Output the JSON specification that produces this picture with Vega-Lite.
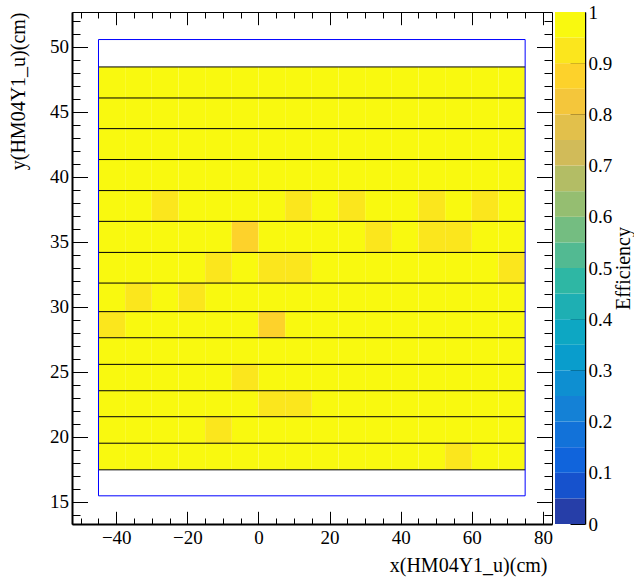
{
  "$schema": "https://vega.github.io/schema/vega-lite/v6.json",
  "background": "white",
  "padding": {"left": 7, "top": 3, "right": 0, "bottom": 0},
  "spacing": 2,
  "config": {
    "font": "Liberation Serif",
    "view": {"stroke": "black", "strokeWidth": 1},
    "axis": {"grid": false, "labelFont": "Liberation Serif", "titleFont": "Liberation Serif", "labelFontSize": 19, "titleFontSize": 20, "titleFontWeight": "normal", "labelColor": "black", "titleColor": "black", "tickColor": "black", "domainColor": "black", "labelFlush": false, "labelOverlap": false}
  },
  "datasets": {
    "cells": [
      {"x":-45,"x2":-37.5,"y":46.07,"y2":48.46,"e":0.98},{"x":-37.5,"x2":-30,"y":46.07,"y2":48.46,"e":0.98},{"x":-30,"x2":-22.5,"y":46.07,"y2":48.46,"e":0.98},{"x":-22.5,"x2":-15,"y":46.07,"y2":48.46,"e":0.98},{"x":-15,"x2":-7.5,"y":46.07,"y2":48.46,"e":0.98},{"x":-7.5,"x2":0,"y":46.07,"y2":48.46,"e":0.98},{"x":0,"x2":7.5,"y":46.07,"y2":48.46,"e":0.98},{"x":7.5,"x2":15,"y":46.07,"y2":48.46,"e":0.98},{"x":15,"x2":22.5,"y":46.07,"y2":48.46,"e":0.98},{"x":22.5,"x2":30,"y":46.07,"y2":48.46,"e":0.98},{"x":30,"x2":37.5,"y":46.07,"y2":48.46,"e":0.98},{"x":37.5,"x2":45,"y":46.07,"y2":48.46,"e":0.98},{"x":45,"x2":52.5,"y":46.07,"y2":48.46,"e":0.98},{"x":52.5,"x2":60,"y":46.07,"y2":48.46,"e":0.98},{"x":60,"x2":67.5,"y":46.07,"y2":48.46,"e":0.98},{"x":67.5,"x2":75,"y":46.07,"y2":48.46,"e":0.98},
      {"x":-45,"x2":-37.5,"y":43.71,"y2":46.07,"e":0.98},{"x":-37.5,"x2":-30,"y":43.71,"y2":46.07,"e":0.98},{"x":-30,"x2":-22.5,"y":43.71,"y2":46.07,"e":0.98},{"x":-22.5,"x2":-15,"y":43.71,"y2":46.07,"e":0.98},{"x":-15,"x2":-7.5,"y":43.71,"y2":46.07,"e":0.98},{"x":-7.5,"x2":0,"y":43.71,"y2":46.07,"e":0.98},{"x":0,"x2":7.5,"y":43.71,"y2":46.07,"e":0.98},{"x":7.5,"x2":15,"y":43.71,"y2":46.07,"e":0.98},{"x":15,"x2":22.5,"y":43.71,"y2":46.07,"e":0.98},{"x":22.5,"x2":30,"y":43.71,"y2":46.07,"e":0.98},{"x":30,"x2":37.5,"y":43.71,"y2":46.07,"e":0.98},{"x":37.5,"x2":45,"y":43.71,"y2":46.07,"e":0.98},{"x":45,"x2":52.5,"y":43.71,"y2":46.07,"e":0.98},{"x":52.5,"x2":60,"y":43.71,"y2":46.07,"e":0.98},{"x":60,"x2":67.5,"y":43.71,"y2":46.07,"e":0.98},{"x":67.5,"x2":75,"y":43.71,"y2":46.07,"e":0.98},
      {"x":-45,"x2":-37.5,"y":41.33,"y2":43.71,"e":0.98},{"x":-37.5,"x2":-30,"y":41.33,"y2":43.71,"e":0.98},{"x":-30,"x2":-22.5,"y":41.33,"y2":43.71,"e":0.98},{"x":-22.5,"x2":-15,"y":41.33,"y2":43.71,"e":0.98},{"x":-15,"x2":-7.5,"y":41.33,"y2":43.71,"e":0.98},{"x":-7.5,"x2":0,"y":41.33,"y2":43.71,"e":0.98},{"x":0,"x2":7.5,"y":41.33,"y2":43.71,"e":0.98},{"x":7.5,"x2":15,"y":41.33,"y2":43.71,"e":0.98},{"x":15,"x2":22.5,"y":41.33,"y2":43.71,"e":0.98},{"x":22.5,"x2":30,"y":41.33,"y2":43.71,"e":0.98},{"x":30,"x2":37.5,"y":41.33,"y2":43.71,"e":0.98},{"x":37.5,"x2":45,"y":41.33,"y2":43.71,"e":0.98},{"x":45,"x2":52.5,"y":41.33,"y2":43.71,"e":0.98},{"x":52.5,"x2":60,"y":41.33,"y2":43.71,"e":0.98},{"x":60,"x2":67.5,"y":41.33,"y2":43.71,"e":0.98},{"x":67.5,"x2":75,"y":41.33,"y2":43.71,"e":0.98},
      {"x":-45,"x2":-37.5,"y":38.94,"y2":41.33,"e":0.98},{"x":-37.5,"x2":-30,"y":38.94,"y2":41.33,"e":0.98},{"x":-30,"x2":-22.5,"y":38.94,"y2":41.33,"e":0.98},{"x":-22.5,"x2":-15,"y":38.94,"y2":41.33,"e":0.98},{"x":-15,"x2":-7.5,"y":38.94,"y2":41.33,"e":0.98},{"x":-7.5,"x2":0,"y":38.94,"y2":41.33,"e":0.98},{"x":0,"x2":7.5,"y":38.94,"y2":41.33,"e":0.98},{"x":7.5,"x2":15,"y":38.94,"y2":41.33,"e":0.98},{"x":15,"x2":22.5,"y":38.94,"y2":41.33,"e":0.98},{"x":22.5,"x2":30,"y":38.94,"y2":41.33,"e":0.98},{"x":30,"x2":37.5,"y":38.94,"y2":41.33,"e":0.98},{"x":37.5,"x2":45,"y":38.94,"y2":41.33,"e":0.98},{"x":45,"x2":52.5,"y":38.94,"y2":41.33,"e":0.98},{"x":52.5,"x2":60,"y":38.94,"y2":41.33,"e":0.98},{"x":60,"x2":67.5,"y":38.94,"y2":41.33,"e":0.98},{"x":67.5,"x2":75,"y":38.94,"y2":41.33,"e":0.98},
      {"x":-45,"x2":-37.5,"y":36.57,"y2":38.94,"e":0.98},{"x":-37.5,"x2":-30,"y":36.57,"y2":38.94,"e":0.98},{"x":-30,"x2":-22.5,"y":36.57,"y2":38.94,"e":0.93},{"x":-22.5,"x2":-15,"y":36.57,"y2":38.94,"e":0.98},{"x":-15,"x2":-7.5,"y":36.57,"y2":38.94,"e":0.98},{"x":-7.5,"x2":0,"y":36.57,"y2":38.94,"e":0.98},{"x":0,"x2":7.5,"y":36.57,"y2":38.94,"e":0.98},{"x":7.5,"x2":15,"y":36.57,"y2":38.94,"e":0.93},{"x":15,"x2":22.5,"y":36.57,"y2":38.94,"e":0.98},{"x":22.5,"x2":30,"y":36.57,"y2":38.94,"e":0.93},{"x":30,"x2":37.5,"y":36.57,"y2":38.94,"e":0.98},{"x":37.5,"x2":45,"y":36.57,"y2":38.94,"e":0.98},{"x":45,"x2":52.5,"y":36.57,"y2":38.94,"e":0.93},{"x":52.5,"x2":60,"y":36.57,"y2":38.94,"e":0.98},{"x":60,"x2":67.5,"y":36.57,"y2":38.94,"e":0.93},{"x":67.5,"x2":75,"y":36.57,"y2":38.94,"e":0.98},
      {"x":-45,"x2":-37.5,"y":34.18,"y2":36.57,"e":0.98},{"x":-37.5,"x2":-30,"y":34.18,"y2":36.57,"e":0.98},{"x":-30,"x2":-22.5,"y":34.18,"y2":36.57,"e":0.98},{"x":-22.5,"x2":-15,"y":34.18,"y2":36.57,"e":0.98},{"x":-15,"x2":-7.5,"y":34.18,"y2":36.57,"e":0.98},{"x":-7.5,"x2":0,"y":34.18,"y2":36.57,"e":0.88},{"x":0,"x2":7.5,"y":34.18,"y2":36.57,"e":0.98},{"x":7.5,"x2":15,"y":34.18,"y2":36.57,"e":0.98},{"x":15,"x2":22.5,"y":34.18,"y2":36.57,"e":0.98},{"x":22.5,"x2":30,"y":34.18,"y2":36.57,"e":0.98},{"x":30,"x2":37.5,"y":34.18,"y2":36.57,"e":0.93},{"x":37.5,"x2":45,"y":34.18,"y2":36.57,"e":0.98},{"x":45,"x2":52.5,"y":34.18,"y2":36.57,"e":0.93},{"x":52.5,"x2":60,"y":34.18,"y2":36.57,"e":0.93},{"x":60,"x2":67.5,"y":34.18,"y2":36.57,"e":0.98},{"x":67.5,"x2":75,"y":34.18,"y2":36.57,"e":0.98},
      {"x":-45,"x2":-37.5,"y":31.82,"y2":34.18,"e":0.98},{"x":-37.5,"x2":-30,"y":31.82,"y2":34.18,"e":0.98},{"x":-30,"x2":-22.5,"y":31.82,"y2":34.18,"e":0.98},{"x":-22.5,"x2":-15,"y":31.82,"y2":34.18,"e":0.98},{"x":-15,"x2":-7.5,"y":31.82,"y2":34.18,"e":0.93},{"x":-7.5,"x2":0,"y":31.82,"y2":34.18,"e":0.98},{"x":0,"x2":7.5,"y":31.82,"y2":34.18,"e":0.93},{"x":7.5,"x2":15,"y":31.82,"y2":34.18,"e":0.93},{"x":15,"x2":22.5,"y":31.82,"y2":34.18,"e":0.98},{"x":22.5,"x2":30,"y":31.82,"y2":34.18,"e":0.98},{"x":30,"x2":37.5,"y":31.82,"y2":34.18,"e":0.98},{"x":37.5,"x2":45,"y":31.82,"y2":34.18,"e":0.98},{"x":45,"x2":52.5,"y":31.82,"y2":34.18,"e":0.98},{"x":52.5,"x2":60,"y":31.82,"y2":34.18,"e":0.98},{"x":60,"x2":67.5,"y":31.82,"y2":34.18,"e":0.98},{"x":67.5,"x2":75,"y":31.82,"y2":34.18,"e":0.93},
      {"x":-45,"x2":-37.5,"y":29.62,"y2":31.82,"e":0.98},{"x":-37.5,"x2":-30,"y":29.62,"y2":31.82,"e":0.93},{"x":-30,"x2":-22.5,"y":29.62,"y2":31.82,"e":0.98},{"x":-22.5,"x2":-15,"y":29.62,"y2":31.82,"e":0.93},{"x":-15,"x2":-7.5,"y":29.62,"y2":31.82,"e":0.98},{"x":-7.5,"x2":0,"y":29.62,"y2":31.82,"e":0.98},{"x":0,"x2":7.5,"y":29.62,"y2":31.82,"e":0.98},{"x":7.5,"x2":15,"y":29.62,"y2":31.82,"e":0.98},{"x":15,"x2":22.5,"y":29.62,"y2":31.82,"e":0.98},{"x":22.5,"x2":30,"y":29.62,"y2":31.82,"e":0.98},{"x":30,"x2":37.5,"y":29.62,"y2":31.82,"e":0.98},{"x":37.5,"x2":45,"y":29.62,"y2":31.82,"e":0.98},{"x":45,"x2":52.5,"y":29.62,"y2":31.82,"e":0.98},{"x":52.5,"x2":60,"y":29.62,"y2":31.82,"e":0.98},{"x":60,"x2":67.5,"y":29.62,"y2":31.82,"e":0.98},{"x":67.5,"x2":75,"y":29.62,"y2":31.82,"e":0.98},
      {"x":-45,"x2":-37.5,"y":27.61,"y2":29.62,"e":0.93},{"x":-37.5,"x2":-30,"y":27.61,"y2":29.62,"e":0.98},{"x":-30,"x2":-22.5,"y":27.61,"y2":29.62,"e":0.98},{"x":-22.5,"x2":-15,"y":27.61,"y2":29.62,"e":0.98},{"x":-15,"x2":-7.5,"y":27.61,"y2":29.62,"e":0.98},{"x":-7.5,"x2":0,"y":27.61,"y2":29.62,"e":0.98},{"x":0,"x2":7.5,"y":27.61,"y2":29.62,"e":0.88},{"x":7.5,"x2":15,"y":27.61,"y2":29.62,"e":0.98},{"x":15,"x2":22.5,"y":27.61,"y2":29.62,"e":0.98},{"x":22.5,"x2":30,"y":27.61,"y2":29.62,"e":0.98},{"x":30,"x2":37.5,"y":27.61,"y2":29.62,"e":0.98},{"x":37.5,"x2":45,"y":27.61,"y2":29.62,"e":0.98},{"x":45,"x2":52.5,"y":27.61,"y2":29.62,"e":0.98},{"x":52.5,"x2":60,"y":27.61,"y2":29.62,"e":0.98},{"x":60,"x2":67.5,"y":27.61,"y2":29.62,"e":0.98},{"x":67.5,"x2":75,"y":27.61,"y2":29.62,"e":0.98},
      {"x":-45,"x2":-37.5,"y":25.56,"y2":27.61,"e":0.98},{"x":-37.5,"x2":-30,"y":25.56,"y2":27.61,"e":0.98},{"x":-30,"x2":-22.5,"y":25.56,"y2":27.61,"e":0.98},{"x":-22.5,"x2":-15,"y":25.56,"y2":27.61,"e":0.98},{"x":-15,"x2":-7.5,"y":25.56,"y2":27.61,"e":0.98},{"x":-7.5,"x2":0,"y":25.56,"y2":27.61,"e":0.98},{"x":0,"x2":7.5,"y":25.56,"y2":27.61,"e":0.98},{"x":7.5,"x2":15,"y":25.56,"y2":27.61,"e":0.98},{"x":15,"x2":22.5,"y":25.56,"y2":27.61,"e":0.98},{"x":22.5,"x2":30,"y":25.56,"y2":27.61,"e":0.98},{"x":30,"x2":37.5,"y":25.56,"y2":27.61,"e":0.98},{"x":37.5,"x2":45,"y":25.56,"y2":27.61,"e":0.98},{"x":45,"x2":52.5,"y":25.56,"y2":27.61,"e":0.98},{"x":52.5,"x2":60,"y":25.56,"y2":27.61,"e":0.98},{"x":60,"x2":67.5,"y":25.56,"y2":27.61,"e":0.98},{"x":67.5,"x2":75,"y":25.56,"y2":27.61,"e":0.98},
      {"x":-45,"x2":-37.5,"y":23.53,"y2":25.56,"e":0.98},{"x":-37.5,"x2":-30,"y":23.53,"y2":25.56,"e":0.98},{"x":-30,"x2":-22.5,"y":23.53,"y2":25.56,"e":0.98},{"x":-22.5,"x2":-15,"y":23.53,"y2":25.56,"e":0.98},{"x":-15,"x2":-7.5,"y":23.53,"y2":25.56,"e":0.98},{"x":-7.5,"x2":0,"y":23.53,"y2":25.56,"e":0.93},{"x":0,"x2":7.5,"y":23.53,"y2":25.56,"e":0.98},{"x":7.5,"x2":15,"y":23.53,"y2":25.56,"e":0.98},{"x":15,"x2":22.5,"y":23.53,"y2":25.56,"e":0.98},{"x":22.5,"x2":30,"y":23.53,"y2":25.56,"e":0.98},{"x":30,"x2":37.5,"y":23.53,"y2":25.56,"e":0.98},{"x":37.5,"x2":45,"y":23.53,"y2":25.56,"e":0.98},{"x":45,"x2":52.5,"y":23.53,"y2":25.56,"e":0.98},{"x":52.5,"x2":60,"y":23.53,"y2":25.56,"e":0.98},{"x":60,"x2":67.5,"y":23.53,"y2":25.56,"e":0.98},{"x":67.5,"x2":75,"y":23.53,"y2":25.56,"e":0.98},
      {"x":-45,"x2":-37.5,"y":21.53,"y2":23.53,"e":0.98},{"x":-37.5,"x2":-30,"y":21.53,"y2":23.53,"e":0.98},{"x":-30,"x2":-22.5,"y":21.53,"y2":23.53,"e":0.98},{"x":-22.5,"x2":-15,"y":21.53,"y2":23.53,"e":0.98},{"x":-15,"x2":-7.5,"y":21.53,"y2":23.53,"e":0.98},{"x":-7.5,"x2":0,"y":21.53,"y2":23.53,"e":0.98},{"x":0,"x2":7.5,"y":21.53,"y2":23.53,"e":0.93},{"x":7.5,"x2":15,"y":21.53,"y2":23.53,"e":0.93},{"x":15,"x2":22.5,"y":21.53,"y2":23.53,"e":0.98},{"x":22.5,"x2":30,"y":21.53,"y2":23.53,"e":0.98},{"x":30,"x2":37.5,"y":21.53,"y2":23.53,"e":0.98},{"x":37.5,"x2":45,"y":21.53,"y2":23.53,"e":0.98},{"x":45,"x2":52.5,"y":21.53,"y2":23.53,"e":0.98},{"x":52.5,"x2":60,"y":21.53,"y2":23.53,"e":0.98},{"x":60,"x2":67.5,"y":21.53,"y2":23.53,"e":0.98},{"x":67.5,"x2":75,"y":21.53,"y2":23.53,"e":0.98},
      {"x":-45,"x2":-37.5,"y":19.49,"y2":21.53,"e":0.98},{"x":-37.5,"x2":-30,"y":19.49,"y2":21.53,"e":0.98},{"x":-30,"x2":-22.5,"y":19.49,"y2":21.53,"e":0.98},{"x":-22.5,"x2":-15,"y":19.49,"y2":21.53,"e":0.98},{"x":-15,"x2":-7.5,"y":19.49,"y2":21.53,"e":0.93},{"x":-7.5,"x2":0,"y":19.49,"y2":21.53,"e":0.98},{"x":0,"x2":7.5,"y":19.49,"y2":21.53,"e":0.98},{"x":7.5,"x2":15,"y":19.49,"y2":21.53,"e":0.98},{"x":15,"x2":22.5,"y":19.49,"y2":21.53,"e":0.98},{"x":22.5,"x2":30,"y":19.49,"y2":21.53,"e":0.98},{"x":30,"x2":37.5,"y":19.49,"y2":21.53,"e":0.98},{"x":37.5,"x2":45,"y":19.49,"y2":21.53,"e":0.98},{"x":45,"x2":52.5,"y":19.49,"y2":21.53,"e":0.98},{"x":52.5,"x2":60,"y":19.49,"y2":21.53,"e":0.98},{"x":60,"x2":67.5,"y":19.49,"y2":21.53,"e":0.98},{"x":67.5,"x2":75,"y":19.49,"y2":21.53,"e":0.98},
      {"x":-45,"x2":-37.5,"y":17.44,"y2":19.49,"e":0.98},{"x":-37.5,"x2":-30,"y":17.44,"y2":19.49,"e":0.98},{"x":-30,"x2":-22.5,"y":17.44,"y2":19.49,"e":0.98},{"x":-22.5,"x2":-15,"y":17.44,"y2":19.49,"e":0.98},{"x":-15,"x2":-7.5,"y":17.44,"y2":19.49,"e":0.98},{"x":-7.5,"x2":0,"y":17.44,"y2":19.49,"e":0.98},{"x":0,"x2":7.5,"y":17.44,"y2":19.49,"e":0.98},{"x":7.5,"x2":15,"y":17.44,"y2":19.49,"e":0.98},{"x":15,"x2":22.5,"y":17.44,"y2":19.49,"e":0.98},{"x":22.5,"x2":30,"y":17.44,"y2":19.49,"e":0.98},{"x":30,"x2":37.5,"y":17.44,"y2":19.49,"e":0.98},{"x":37.5,"x2":45,"y":17.44,"y2":19.49,"e":0.98},{"x":45,"x2":52.5,"y":17.44,"y2":19.49,"e":0.98},{"x":52.5,"x2":60,"y":17.44,"y2":19.49,"e":0.93},{"x":60,"x2":67.5,"y":17.44,"y2":19.49,"e":0.98},{"x":67.5,"x2":75,"y":17.44,"y2":19.49,"e":0.98}
    ],
    "edges": [
      {"y":48.46},{"y":46.07},{"y":43.71},{"y":41.33},{"y":38.94},{"y":36.57},{"y":34.18},{"y":31.82},{"y":29.62},{"y":27.61},{"y":25.56},{"y":23.53},{"y":21.53},{"y":19.49},{"y":17.44}
    ],
    "box": [{"x":-45,"x2":75,"y":15.44,"y2":50.57}],
    "bands": [
      {"lo":0,"hi":0.05,"e":0.025},{"lo":0.05,"hi":0.1,"e":0.075},{"lo":0.1,"hi":0.15,"e":0.125},{"lo":0.15,"hi":0.2,"e":0.175},{"lo":0.2,"hi":0.25,"e":0.225},{"lo":0.25,"hi":0.3,"e":0.275},{"lo":0.3,"hi":0.35,"e":0.325},{"lo":0.35,"hi":0.4,"e":0.375},{"lo":0.4,"hi":0.45,"e":0.425},{"lo":0.45,"hi":0.5,"e":0.475},{"lo":0.5,"hi":0.55,"e":0.525},{"lo":0.55,"hi":0.6,"e":0.575},{"lo":0.6,"hi":0.65,"e":0.625},{"lo":0.65,"hi":0.7,"e":0.675},{"lo":0.7,"hi":0.75,"e":0.725},{"lo":0.75,"hi":0.8,"e":0.775},{"lo":0.8,"hi":0.85,"e":0.825},{"lo":0.85,"hi":0.9,"e":0.875},{"lo":0.9,"hi":0.95,"e":0.925},{"lo":0.95,"hi":1,"e":0.975}
    ]
  },
  "hconcat": [
    {
      "width": 480,
      "height": 512,
      "layer": [
        {
          "data": {"name": "cells"},
          "mark": {"type": "rect"},
          "encoding": {
            "x": {"field": "x", "type": "quantitative", "scale": {"domain": [-52.45, 82.55], "nice": false, "zero": false},
              "axis": {"orient": "bottom", "title": "x(HM04Y1_u)(cm)", "titleAnchor": "end", "titleX": 475, "titleAlign": "right", "values": [-50,-45,-40,-35,-30,-25,-20,-15,-10,-5,0,5,10,15,20,25,30,35,40,45,50,55,60,65,70,75,80],
                "tickSize": {"condition": {"test": "datum.value % 20 === 0", "value": -12.7}, "value": -6},
                "labelExpr": "datum.value % 20 === 0 ? datum.label : ''", "labelFont": "Liberation Serif", "titleFont": "Liberation Serif", "labelPadding": 16.7, "titlePadding": 2, "domainWidth": 2}},
            "x2": {"field": "x2"},
            "y": {"field": "y", "type": "quantitative", "scale": {"domain": [13.27, 52.69], "nice": false, "zero": false},
              "axis": {"orient": "left", "title": "y(HM04Y1_u)(cm)", "titleAnchor": "end", "values": [14,15,16,17,18,19,20,21,22,23,24,25,26,27,28,29,30,31,32,33,34,35,36,37,38,39,40,41,42,43,44,45,46,47,48,49,50,51,52],
                "tickSize": {"condition": {"test": "datum.value % 5 === 0", "value": -15.5}, "value": -8},
                "labelExpr": "datum.value % 5 === 0 ? datum.label : ''", "labelFont": "Liberation Serif", "titleFont": "Liberation Serif", "labelPadding": 19, "titlePadding": 21, "domainWidth": 2}},
            "y2": {"field": "y2"},
            "color": {"field": "e", "type": "quantitative", "scale": {"type": "quantize", "domain": [0, 1], "nice": false, "zero": false, "range": ["#263EA8","#1652CD","#1064DC","#1272D9","#1481D6","#0E8FD1","#099DCC","#0DA7C3","#1EAFB3","#2EB7A4","#52BA92","#74BD81","#95BE71","#B3BD65","#D1BB59","#E2C04B","#F4C63B","#FDD22B","#FBE61D","#F9F90F"]}, "legend": null}
          }
        },
        {
          "data": {"name": "edges"},
          "mark": {"type": "rule", "color": "black", "strokeWidth": 1},
          "encoding": {
            "y": {"field": "y", "type": "quantitative",
              "axis": {"orient": "right", "title": null, "values": [14,15,16,17,18,19,20,21,22,23,24,25,26,27,28,29,30,31,32,33,34,35,36,37,38,39,40,41,42,43,44,45,46,47,48,49,50,51,52],
                "tickSize": {"condition": {"test": "datum.value % 5 === 0", "value": -15.5}, "value": -8}, "labels": false, "domain": false}},
            "x": {"datum": -45, "type": "quantitative",
              "axis": {"orient": "top", "title": null, "values": [-50,-45,-40,-35,-30,-25,-20,-15,-10,-5,0,5,10,15,20,25,30,35,40,45,50,55,60,65,70,75,80],
                "tickSize": {"condition": {"test": "datum.value % 20 === 0", "value": -12.7}, "value": -6}, "labels": false, "domain": false}},
            "x2": {"datum": 75}
          }
        },
        {
          "data": {"name": "box"},
          "mark": {"type": "rect", "fill": null, "fillOpacity": 0, "stroke": "#0000ff", "strokeWidth": 1},
          "encoding": {
            "x": {"field": "x", "type": "quantitative", "axis": null},
            "x2": {"field": "x2"},
            "y": {"field": "y", "type": "quantitative", "axis": null},
            "y2": {"field": "y2"}
          }
        }
      ],
      "resolve": {"axis": {"x": "independent", "y": "independent"}}
    },
    {
      "width": 30,
      "height": 512,
      "view": {"stroke": null},
      "data": {"name": "bands"},
      "mark": {"type": "rect"},
      "encoding": {
        "y": {"field": "lo", "type": "quantitative", "scale": {"domain": [0, 1], "nice": false, "zero": false},
          "axis": {"orient": "right", "title": "Efficiency", "titleAnchor": "middle", "titleAngle": 270, "titleBaseline": "top", "values": [0,0.1,0.2,0.3,0.4,0.5,0.6,0.7,0.8,0.9,1], "format": ".1~f", "labelFont": "Liberation Serif", "titleFont": "Liberation Serif", "tickSize": -15, "labelPadding": 18, "titlePadding": 2, "domainWidth": 1.5}},
        "y2": {"field": "hi"},
        "color": {"field": "e", "type": "quantitative", "scale": {"type": "quantize", "domain": [0, 1], "nice": false, "zero": false, "range": ["#263EA8","#1652CD","#1064DC","#1272D9","#1481D6","#0E8FD1","#099DCC","#0DA7C3","#1EAFB3","#2EB7A4","#52BA92","#74BD81","#95BE71","#B3BD65","#D1BB59","#E2C04B","#F4C63B","#FDD22B","#FBE61D","#F9F90F"]}, "legend": null}
      }
    }
  ]
}
